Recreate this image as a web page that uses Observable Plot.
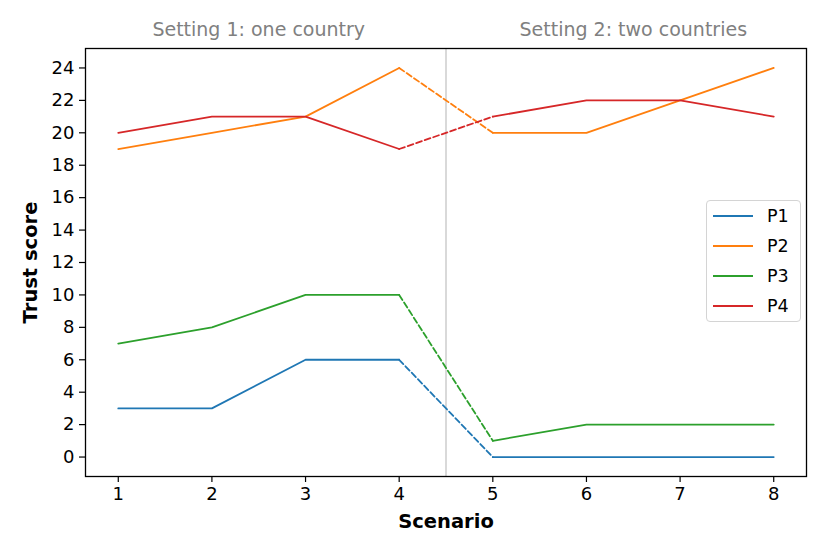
<!DOCTYPE html>
<html>
<head>
<meta charset="utf-8">
<script src="https://cdn.jsdelivr.net/npm/d3@7"></script>
<script src="https://cdn.jsdelivr.net/npm/@observablehq/plot@0.6"></script>
<style>
  html, body { margin: 0; padding: 0; background: #fff; }
  #wrap { position: relative; width: 830px; height: 554px; font-family: "DejaVu Sans", sans-serif; }
  #legend { position: absolute; box-sizing: border-box; width: 95px; background: rgba(255,255,255,0.8); border: 1px solid #d4d4d4; border-radius: 4px; padding: 0 6px; font-size: 17.5px; }
  #legend .row { display: flex; align-items: center; height: 30px; }
  #legend .sw { width: 40px; height: 0; border-top: 2px solid; margin-right: 14px; }
</style>
</head>
<body>
<div id="wrap"><div id="legend"></div></div>
<script>
const scenarios = [1, 2, 3, 4, 5, 6, 7, 8];
const seriesNames = ["P1", "P2", "P3", "P4"];
const P1 = [3, 3, 6, 6, 0, 0, 0, 0];
const P2 = [19, 20, 21, 24, 20, 20, 22, 24];
const P3 = [7, 8, 10, 10, 1, 2, 2, 2];
const P4 = [20, 21, 21, 19, 21, 22, 22, 21];
const colors = ["#1f77b4", "#ff7f0e", "#2ca02c", "#d62728"];
const settings = [
  {label: "Setting 1: one country", scenarios: [1, 2, 3, 4]},
  {label: "Setting 2: two countries", scenarios: [5, 6, 7, 8]}
];
const yTicks = d3.range(0, 25, 2);

const values = [P1, P2, P3, P4];
const solid = [];
const dashed = [];
values.forEach((vals, si) => {
  settings.forEach((s, k) => {
    s.scenarios.forEach(x => {
      solid.push({x, y: vals[scenarios.indexOf(x)], series: seriesNames[si], key: seriesNames[si] + "-" + k});
    });
  });
  const lastA = settings[0].scenarios[settings[0].scenarios.length - 1];
  const firstB = settings[1].scenarios[0];
  [lastA, firstB].forEach(x => dashed.push({x, y: vals[scenarios.indexOf(x)], series: seriesNames[si]}));
});
const divider = (settings[0].scenarios[settings[0].scenarios.length - 1] + settings[1].scenarios[0]) / 2;
const titleRows = settings.map(s => ({x: d3.mean(s.scenarios), label: s.label}));

const xMin = d3.min(scenarios), xMax = d3.max(scenarios);
const xPad = (xMax - xMin) * 0.05;
const yAll = values.flat();
const yMin = d3.min(yAll), yMax = d3.max(yAll);
const yPad = (yMax - yMin) * 0.05;

const chart = Plot.plot({
  width: 830,
  height: 554,
  marginLeft: 85,
  marginRight: 24,
  marginTop: 48,
  marginBottom: 78,
  style: {fontFamily: "DejaVu Sans, sans-serif", fontSize: "18px", color: "#000", background: "transparent"},
  x: {domain: [xMin - xPad, xMax + xPad]},
  y: {domain: [yMin - yPad, yMax + yPad]},
  color: {domain: seriesNames, range: colors},
  marks: [
    Plot.ruleX([divider], {stroke: "#cccccc", strokeWidth: 1.5}),
    Plot.line(solid, {x: "x", y: "y", z: "key", stroke: "series", strokeWidth: 1.8}),
    Plot.line(dashed, {x: "x", y: "y", z: "series", stroke: "series", strokeWidth: 1.8, strokeDasharray: "6,3"}),
    Plot.frame({stroke: "#000", strokeWidth: 1.3}),
    Plot.axisX({ticks: scenarios, tickSize: 6, tickPadding: 5, label: null, fontSize: 18, stroke: "#000", strokeWidth: 1.2}),
    Plot.axisY({ticks: yTicks, tickSize: 6, tickPadding: 5, label: null, fontSize: 18, stroke: "#000", strokeWidth: 1.2}),
    Plot.text(["Scenario"], {frameAnchor: "bottom", lineAnchor: "middle", dy: 45, fontWeight: "bold", fontSize: 19.5}),
    Plot.text(["Trust score"], {frameAnchor: "left", textAnchor: "middle", lineAnchor: "middle", rotate: -90, dx: -55, fontWeight: "bold", fontSize: 19.5}),
    Plot.text(titleRows, {x: "x", frameAnchor: "top", lineAnchor: "middle", dy: -19, text: "label", fill: "#808080", fontSize: 19})
  ]
});
const wrap = document.getElementById("wrap");
wrap.insertBefore(chart, wrap.firstChild);

const legend = document.getElementById("legend");
legend.style.left = "706px";
legend.style.top = "200px";
seriesNames.forEach((n, i) => {
  const row = document.createElement("div");
  row.className = "row";
  const sw = document.createElement("span");
  sw.className = "sw";
  sw.style.borderColor = colors[i];
  const t = document.createElement("span");
  t.textContent = n;
  row.appendChild(sw);
  row.appendChild(t);
  legend.appendChild(row);
});
</script>
</body>
</html>
